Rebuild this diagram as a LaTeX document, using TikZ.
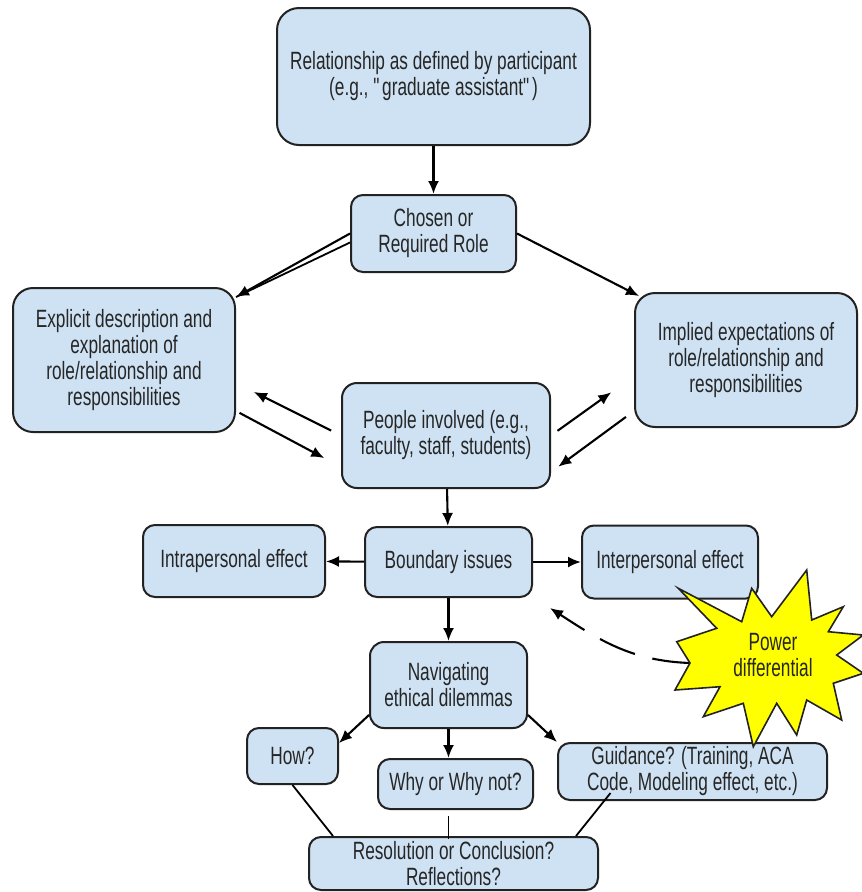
\documentclass[tikz,border=0pt]{standalone}
\usepackage{fontspec}
\setmainfont{Liberation Sans}[FakeStretch=0.69]
\usetikzlibrary{arrows.meta}
\definecolor{boxblue}{HTML}{CFE2F3}
\definecolor{boxline}{HTML}{222222}
\definecolor{starfill}{HTML}{FFFF00}

\begin{document}
\begin{tikzpicture}[x=1pt,y=1pt]
  \tikzset{
    box/.style={rectangle,rounded corners=12pt,draw=boxline,line width=2pt,fill=boxblue,
      align=center,inner sep=2pt,text=black!85,font=\fontsize{25}{26}\selectfont},
    arr/.style={-{Latex[length=13pt,width=11pt]},line width=2.1pt},
    lnk/.style={line width=1.8pt}
  }
  \useasboundingbox (0,0) rectangle (862,-892);

  \node[box,rounded corners=22pt,minimum width=313pt,minimum height=137pt] (rel) at (433.5,-76.5)
    {Relationship as defined by participant\\(e.g., \textquotedbl graduate assistant\textquotedbl)};
  \node[box,minimum width=165pt,minimum height=77pt,node distance=157pt,below of=rel] (role)
    {Chosen or\\Required Role};
  \node[box,rounded corners=15pt,minimum width=208pt,minimum height=105pt,node distance=202pt,below of=role,xshift=12.5pt] (ppl)
    {People involved (e.g.,\\faculty, staff, students)};
  \node[box,rounded corners=20pt,minimum width=222pt,minimum height=144pt,node distance=322pt,left of=ppl,yshift=75.5pt] (expl)
    {Explicit description and\\explanation of\\role/relationship and\\responsibilities};
  \node[box,rounded corners=20pt,minimum width=222pt,minimum height=134pt,node distance=300pt,right of=ppl,yshift=75.5pt] (impl)
    {Implied expectations of\\role/relationship and\\responsibilities};
  \node[box,minimum width=167pt,minimum height=70pt,node distance=126.5pt,below of=ppl,xshift=2.5pt] (bnd)
    {Boundary issues};
  \node[box,minimum width=182pt,minimum height=72pt,node distance=214.5pt,left of=bnd,yshift=1pt] (intra)
    {Intrapersonal effect};
  \node[box,minimum width=176pt,minimum height=73pt,node distance=221.5pt,right of=bnd] (inter)
    {Interpersonal effect};
  \node[box,rounded corners=14pt,minimum width=157pt,minimum height=86pt,node distance=123pt,below of=bnd] (nav)
    {Navigating\\ethical dilemmas};
  \node[box,minimum width=91pt,minimum height=56pt,node distance=156pt,left of=nav,yshift=-71pt] (how)
    {How?};
  \node[box,minimum width=155pt,minimum height=50pt,node distance=99pt,below of=nav,xshift=7pt] (why)
    {Why or Why not?};
  \node[box,minimum width=269pt,minimum height=57pt,node distance=244pt,right of=nav,yshift=-86.5pt] (guide)
    {Guidance? (Training, ACA\\Code, Modeling effect, etc.)};
  \node[box,minimum width=289pt,minimum height=53pt,node distance=79.5pt,below of=why,xshift=-2pt] (res)
    {Resolution or Conclusion?\\Reflections?};

  \draw[arr] (rel) edge (role)
        (ppl) edge (bnd)
        (bnd) edge (intra)
        (bnd) edge (inter)
        (bnd) edge (nav);

  % role splits in two
  \draw[arr] (role.west) -- ([yshift=-10pt]expl.north east);
  \draw[lnk] ([yshift=-9pt]role.west) -- ([yshift=-10pt]expl.north east);
  \draw[arr] (role.east) -- ([xshift=5pt,yshift=-4pt]impl.north west);

  % people <-> descriptions
  \draw[arr,shorten <=11pt,shorten >=20pt] (ppl.west) -- ([yshift=-23pt]expl.east);
  \draw[arr,shorten <=4pt,shorten >=19pt] ([yshift=-51pt]expl.east) -- ([yshift=-31.5pt]ppl.west);
  \draw[arr,shorten <=8pt,shorten >=28pt] (ppl.east) -- ([yshift=-16pt]impl.west);
  \draw[arr,shorten <=10pt,shorten >=9pt] ([yshift=-51pt]impl.west) -- ([yshift=-36.5pt]ppl.east);

  \draw[arr] ([yshift=-30pt]nav.west) -- ([yshift=13pt]how.east);
  \draw[arr] (nav.south) -- (nav.south |- why.north);
  \draw[arr] ([yshift=-30pt]nav.east) -- (guide.north west);

  \draw[lnk] (how.south) -- ([xshift=25pt]res.north west);
  \draw[lnk,shorten <=6pt] (nav.south |- why.south) -- ([yshift=-3pt]nav.south |- res.north);
  \draw[lnk] ([xshift=-82pt,yshift=-21.5pt]guide.center) -- ([xshift=-23pt]res.north east);

  % power differential
  \coordinate (pwl) at (690,-663);
  \draw[arr,dash pattern=on 38pt off 18pt] (pwl) to[out=178,in=-33] ([xshift=17pt,yshift=-10pt]bnd.south east);
  \draw[line width=1.6pt,draw=boxline,fill=starfill,line join=miter]
    (678.3,-588.3) -- (741.7,-621.7) -- (751.7,-588.3) -- (771.7,-616.7) -- (806.7,-570)
    -- (811.7,-620) -- (843.3,-606.7) -- (828.3,-631.7) -- (863.3,-635) -- (836.7,-655)
    -- (863.3,-673.3) -- (833.3,-683.3) -- (841.7,-720) -- (806.7,-700) -- (796.7,-735)
    -- (776.7,-703.3) -- (753.3,-746.7) -- (743.3,-703.3) -- (703.3,-716.7) -- (720,-686.7)
    -- (675,-690) -- (690,-663) -- (676.7,-641.7) -- (716.7,-628.3) -- cycle;
  \node[align=center,text=black!85,font=\fontsize{25}{26}\selectfont] (pow) at (773,-655)
    {Power\\differential};
\end{tikzpicture}
\end{document}
